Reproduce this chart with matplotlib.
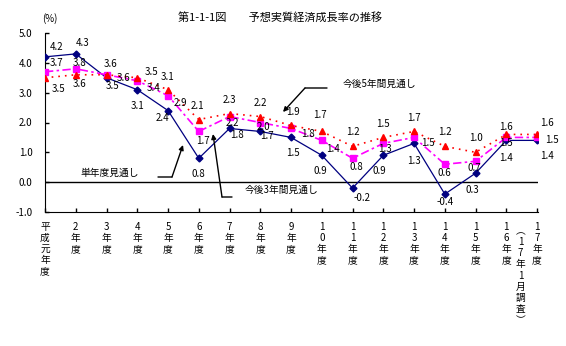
import matplotlib
matplotlib.use("Agg")
import matplotlib.pyplot as plt
import numpy as np

plt.rcParams['font.family'] = ['Noto Sans CJK JP', 'DejaVu Sans']

# 年度 (平成元年度 .. 17年度)
years = ["平成元", "2", "3", "4", "5", "6", "7", "8", "9", "10",
         "11", "12", "13", "14", "15", "16", "17"]
single_year = [4.2, 4.3, 3.5, 3.1, 2.4, 0.8, 1.8, 1.7, 1.5, 0.9,
               -0.2, 0.9, 1.3, -0.4, 0.3, 1.4, 1.4]
three_year = [3.7, 3.8, 3.6, 3.4, 2.9, 1.7, 2.2, 2.0, 1.8, 1.4,
              0.8, 1.3, 1.5, 0.6, 0.7, 1.5, 1.5]
five_year = [3.5, 3.6, 3.6, 3.5, 3.1, 2.1, 2.3, 2.2, 1.9, 1.7,
             1.2, 1.5, 1.7, 1.2, 1.0, 1.6, 1.6]

# label offsets in points (dx, dy)
off_single = [(8, 7), (5, 8), (4, -6), (0, -12), (-4, -5), (0, -11), (5, -5), (5, -3),
              (1, -11), (-1, -11), (7, -7), (-3, -11), (0, -13), (0, -6), (-2, -12), (0, -13), (7, -11)]
off_three = [(8, 6), (3, 4), (12, -2), (12, -5), (9, -5), (3, -7), (2, -5), (2, -3),
             (12, -4), (8, -6), (3, -6), (1, -4), (10, -4), (0, -6), (-1, -5), (0, -4), (11, -2)]
off_five = [(10, -8), (3, -7), (3, 8), (10, 4), (0, 9), (-1, 10), (0, 10), (0, 10),
            (1, 10), (-1, 12), (0, 10), (0, 10), (0, 10), (0, 10), (0, 10), (0, 5), (7, 8)]

fig = plt.figure(figsize=(5.66, 3.46), dpi=100)
ax = fig.add_axes([45 / 566, 134 / 346, 493 / 566, 179 / 346])

x = np.arange(len(years))
ax.plot(x, single_year, color='#000080', lw=0.9, marker='D', ms=3.5, zorder=3)
ax.plot(x, three_year, color='#FF00FF', lw=1.2, ls=(0, (5, 2, 1.5, 2)),
        marker='s', ms=5, zorder=4)
ax.plot(x, five_year, color='#FF0000', lw=1.2, ls=(0, (1, 3)),
        marker='^', ms=5, zorder=5)

fs = 7
for vals, offs in [(single_year, off_single), (three_year, off_three), (five_year, off_five)]:
    for i, v in enumerate(vals):
        ax.annotate(f"{v:.1f}", (i, v), xytext=offs[i], textcoords='offset points',
                    ha='center', va='center', fontsize=fs, zorder=6)

ax.axhline(0, color='black', lw=1)
ax.set_xlim(0, 16.03)
ax.set_ylim(-1, 5)
ax.set_yticks(np.arange(-1, 5.1, 1))
ax.set_yticklabels([f"{v:.1f}" for v in np.arange(-1, 5.1, 1)], fontsize=fs)
ax.spines['top'].set_visible(False)
ax.spines['right'].set_visible(False)
ax.tick_params(axis='both', direction='in', length=3, width=1)
ax.tick_params(axis='y', pad=9)

labels = []
for y in years:
    labels.append("\n".join(list(y) + ["年", "度"]))
ax.set_xticks(x)
ax.set_xticklabels(labels, fontsize=fs, linespacing=1.15)
ax.tick_params(axis='x', pad=7)
ax.annotate("\n".join(["︵", "1", "7", "年", "1", "月", "調", "査", "︶"]),
            (16, 0), xycoords=('data', 'axes fraction'), xytext=(-12, -10),
            textcoords='offset points', ha='center', va='top', fontsize=fs,
            linespacing=1.15)

fig.text(280 / 566, 1 - 17 / 346, "第1-1-1図　　予想実質経済成長率の推移",
         ha='center', va='center', fontsize=8)
fig.text(50 / 566, 1 - 19 / 346, "(%)", ha='center', va='center', fontsize=fs)

# annotations (figure pixels, origin bottom-left)
H = 346
arrow = dict(arrowstyle='-|>', color='black', lw=1, mutation_scale=7, shrinkA=0, shrinkB=0)
plain = dict(arrowstyle='-', color='black', lw=1, shrinkA=0, shrinkB=0)

fig.text(343 / 566, 1 - 84 / H, "今後5年間見通し", ha='left', va='center', fontsize=fs)
ax.annotate("", xy=(327, H - 88), xytext=(305, H - 88), xycoords='figure pixels', arrowprops=plain)
ax.annotate("", xy=(283, H - 112), xytext=(305, H - 88), xycoords='figure pixels', arrowprops=arrow)

fig.text(80 / 566, 1 - 173 / H, "単年度見通し", ha='left', va='center', fontsize=fs)
ax.annotate("", xy=(172, H - 177), xytext=(158, H - 177), xycoords='figure pixels', arrowprops=plain)
ax.annotate("", xy=(183, H - 145), xytext=(172, H - 177), xycoords='figure pixels', arrowprops=arrow)

fig.text(245 / 566, 1 - 190 / H, "今後3年間見通し", ha='left', va='center', fontsize=fs)
ax.annotate("", xy=(232, H - 197), xytext=(222, H - 197), xycoords='figure pixels', arrowprops=plain)
ax.annotate("", xy=(213, H - 134), xytext=(222, H - 197), xycoords='figure pixels', arrowprops=arrow)

fig.savefig("out.png", dpi=100)
